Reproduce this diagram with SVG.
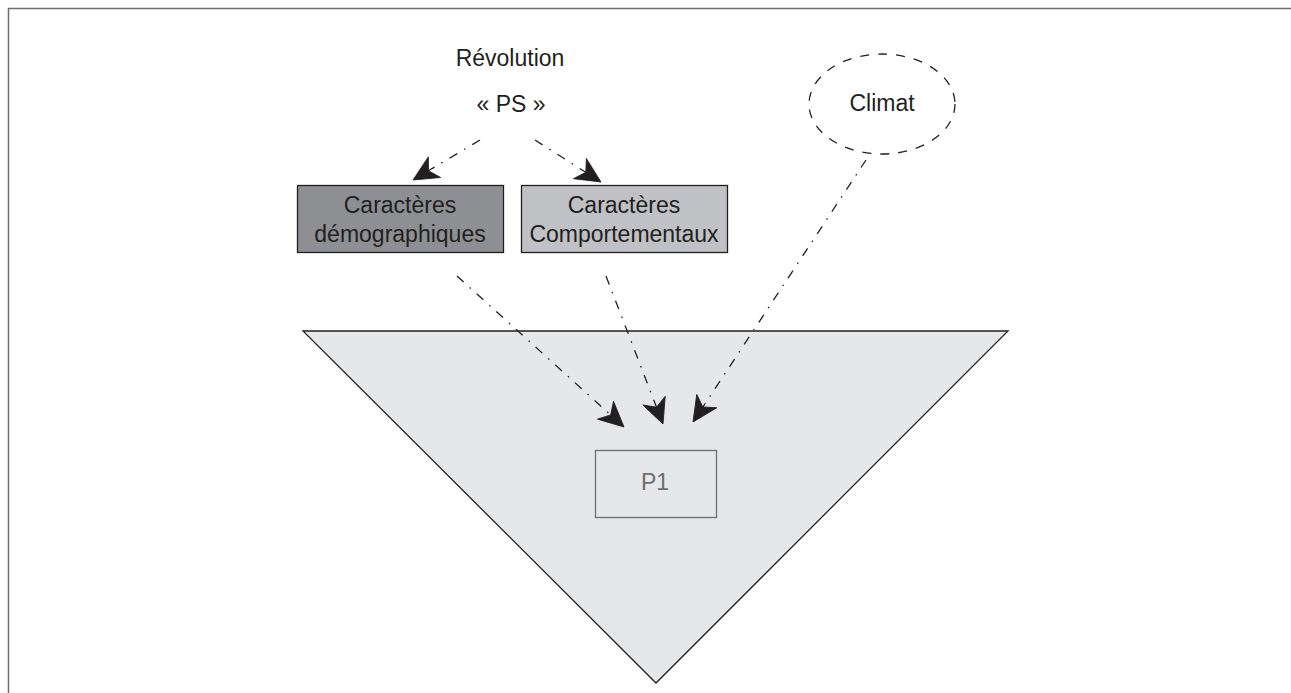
<svg xmlns="http://www.w3.org/2000/svg" width="1291" height="693" viewBox="0 0 1291 693">
<style>
text{font-family:"Liberation Sans",Arial,sans-serif;font-size:23px;fill:#231f20;text-anchor:middle}
.conn{fill:none;stroke:#231f20;stroke-width:1.3;stroke-dasharray:9 8 1.5 8}
.box{stroke:#231f20;stroke-width:1.3}
</style>
<defs>
<marker id="ah" markerUnits="userSpaceOnUse" viewBox="-26 -14 28 28" refX="0" refY="0" markerWidth="28" markerHeight="28" orient="auto">
<path d="M0,0 L-25,-12 L-18,0 L-25,12 Z" fill="#231f20" stroke="#231f20" stroke-width="0.8" stroke-linejoin="miter"/>
</marker>
</defs>
<rect width="1291" height="693" fill="#fff"/>
<path d="M8.5,693 V8.5 H1291" fill="none" stroke="#6d6e71" stroke-width="1.5"/>
<g id="triangle">
<polygon points="303,331 1008,331 656,683" fill="#e6e7e8" stroke="#231f20" stroke-width="1.3"/>
</g>
<g id="revolution">
<text x="510" y="66">Révolution</text>
<text x="511" y="112">« PS »</text>
</g>
<g id="climat">
<ellipse cx="882" cy="104" rx="73" ry="50" fill="none" stroke="#231f20" stroke-width="1.3" stroke-dasharray="9 9"/>
<text x="882" y="111">Climat</text>
</g>
<g id="demographiques">
<rect class="box" x="297.5" y="185.5" width="206" height="67" fill="#8e8f93"/>
<text x="400" y="213">Caractères</text>
<text x="400" y="242">démographiques</text>
</g>
<g id="comportementaux">
<rect class="box" x="521.5" y="185.5" width="206" height="67" fill="#c0c1c4"/>
<text x="624" y="213">Caractères</text>
<text x="624" y="242">Comportementaux</text>
</g>
<g id="p1">
<rect x="595.5" y="450.5" width="121" height="67" fill="#e6e7e8" stroke="#6d6e71" stroke-width="1.3"/>
<text x="655" y="490" style="fill:#6d6e71">P1</text>
</g>
<g id="connectors">
<path class="conn" d="M480,140 L413,180" marker-end="url(#ah)"/>
<path class="conn" d="M535,140 L601,182" marker-end="url(#ah)"/>
<path class="conn" d="M457,276 L624,427" marker-end="url(#ah)"/>
<path class="conn" d="M606,276 L663,424" marker-end="url(#ah)"/>
<path class="conn" d="M866,160 L693,422" marker-end="url(#ah)"/>
</g>
</svg>
